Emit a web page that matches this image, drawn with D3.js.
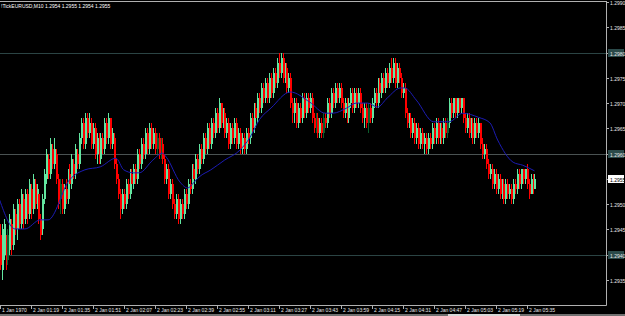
<!DOCTYPE html>
<html><head><meta charset="utf-8">
<script src="https://cdn.jsdelivr.net/npm/d3@7"></script>
<style>html,body{margin:0;padding:0;background:#000;overflow:hidden}</style>
</head><body>
<svg id="c" width="625" height="316"></svg>
<script>
// Prices in pips above 1.2900 (e.g. 55 -> 1.2955)
const opens = [44,37,40,42,39,41,46,42,48,45,50,46,51,47,52,48,53,49,54,50,52,47,45,51,55,59,56,61,58,60,55,51,54,49,53,51,56,54,58,56,60,58,63,66,62,67,64,66,62,65,60,63,59,63,61,66,63,67,62,63,58,55,52,49,52,50,54,52,56,54,57,55,60,58,62,60,64,61,65,62,64,61,63,60,62,59,55,57,52,54,50,48,51,47,50,48,52,50,54,53,57,55,59,57,61,59,63,61,65,62,66,64,68,65,70,66,68,64,66,62,65,63,66,62,64,61,63,61,64,63,67,65,69,67,71,69,73,71,74,71,75,72,76,74,78,76,79,75,77,73,75,70,68,70,66,69,67,71,68,71,69,71,67,65,67,64,66,64,67,66,70,68,72,70,73,71,73,70,68,70,67,70,72,69,72,70,72,69,67,69,66,69,67,70,72,70,74,72,75,73,76,74,77,75,78,74,77,75,72,73,68,66,67,64,66,63,65,62,64,62,63,61,63,62,65,63,66,63,65,63,66,64,66,70,68,71,68,71,69,71,67,65,67,64,66,63,66,64,66,62,60,61,58,56,57,54,56,53,55,52,54,51,54,52,53,51,54,53,56,54,57,55,57,54,52,55,53];
const closes = [38,45,46,39,44,47,42,49,45,50,46,52,47,52,48,54,49,55,50,53,47,44,51,56,60,56,62,58,61,55,50,54,49,53,51,56,54,59,56,61,58,63,66,62,67,64,66,62,65,60,63,59,63,61,66,63,67,62,64,58,55,52,49,52,50,54,52,56,54,57,55,60,58,62,60,64,61,65,62,64,61,63,60,62,59,55,57,52,54,50,48,51,47,50,48,52,50,54,53,57,55,59,57,61,59,63,61,65,62,66,64,68,65,70,66,68,64,66,62,65,63,66,62,64,61,63,61,64,63,67,65,69,67,71,69,73,71,74,71,75,72,76,74,78,76,79,75,77,73,75,70,68,70,66,69,67,71,68,71,69,71,67,65,67,64,66,64,67,66,70,68,72,70,73,71,73,70,68,70,67,70,72,69,72,70,72,69,67,69,66,69,67,70,72,70,74,72,75,73,76,74,77,75,78,74,77,75,72,73,68,66,67,64,66,63,65,62,64,62,63,61,63,62,65,63,66,63,65,63,66,64,66,70,68,71,68,71,69,71,67,65,67,64,66,63,66,64,66,62,60,61,58,56,57,54,56,53,55,52,54,51,54,52,53,51,54,53,56,54,57,55,57,54,52,55,53,55];
const highs = [46,46,47,44,45,48,47,50,49,51,51,53,52,53,53,55,54,56,55,54,53,48,52,57,61,60,63,62,63,61,56,55,55,54,55,57,58,60,59,62,61,64,67,67,68,68,68,67,66,66,64,64,64,64,67,67,68,67,65,64,59,56,53,53,53,55,55,57,57,58,58,61,61,63,63,65,65,66,66,65,65,64,64,63,63,60,58,58,55,55,51,52,52,51,51,53,53,55,55,58,58,60,60,62,62,64,64,66,66,67,67,69,69,71,70,69,69,67,67,66,66,67,67,65,65,64,64,65,65,68,68,70,70,72,72,74,74,75,75,76,76,77,77,79,80,80,80,78,78,76,76,71,71,71,70,70,72,72,72,72,72,72,68,68,68,67,67,68,68,71,71,73,73,74,74,74,74,71,71,71,71,73,73,73,73,73,73,70,70,70,70,70,71,73,73,75,75,76,76,77,77,78,79,79,79,78,78,76,74,74,69,68,68,67,67,66,66,65,65,64,64,64,64,66,66,67,67,66,66,67,67,67,71,71,71,71,71,71,71,71,68,68,68,67,67,67,67,67,66,63,62,62,59,58,58,57,57,56,56,55,55,55,55,54,54,55,55,57,57,57,57,57,58,55,56,56,56];
const lows = [37,35,39,37,38,40,40,41,44,43,45,45,45,46,46,47,47,48,49,49,46,43,44,50,54,55,55,57,57,54,49,48,48,48,50,50,53,53,55,55,57,57,62,61,61,63,63,61,61,59,58,58,58,60,60,62,62,61,61,57,54,51,47,48,49,49,51,51,53,53,54,54,57,57,59,59,60,60,61,61,60,60,59,59,58,54,54,51,51,49,47,47,46,46,47,47,49,49,52,52,54,54,56,56,58,58,60,60,61,61,63,63,64,64,65,65,63,63,61,61,62,62,61,61,60,60,60,60,62,62,64,64,66,66,68,68,70,70,70,70,71,71,73,73,75,75,74,74,72,72,69,66,66,65,65,66,66,67,67,68,68,66,64,64,63,63,63,63,65,65,67,67,69,69,70,70,69,67,67,66,66,69,68,68,69,69,68,66,65,65,64,66,66,69,69,69,71,71,72,72,73,73,74,74,73,73,74,71,71,67,65,65,63,63,62,62,61,61,61,60,60,60,61,61,62,62,62,62,62,62,63,63,65,67,67,67,67,68,68,66,64,64,63,63,62,62,63,63,61,59,59,57,55,55,53,53,52,52,51,51,50,50,51,51,50,50,52,52,53,53,54,54,53,51,52,52,53];
const darkUpBars = [4,31,81,83,163,167,190,231];
// Moving average (bar index, pips)
const maIndex = [0,8,13,21,25,36,44,52,60,64,69,72,79,84,86,93,97,100,103,109,116,124,129,134,140,150,160,168,172,179,184,190,195,200,207,209,215,224,232,239,247,253,257,265,270,276];
const maValue = [50.8,45.1,45.1,46.9,46.9,54.8,56.8,57.4,59.1,56.8,56.2,56.2,58.7,60.1,59.3,54.4,53.2,54.2,55.4,56.8,58.7,60.7,63.1,66.7,69.0,72.2,70.2,68.0,68.0,69.0,70.0,70.0,69.2,71.0,73.0,73.0,70.6,66.3,66.3,68.0,67.2,66.1,62.7,58.3,57.7,56.6];
const priceTicks = [1.2990,1.2985,1.2980,1.2975,1.2970,1.2965,1.2960,1.2955,1.2950,1.2945,1.2940,1.2935];
const levelLines = [1.2980,1.2960,1.2940];
const currentPrice = 1.2955;
const timeTickBars = [0,16,32,48,64,80,96,112,128,144,160,176,192,208,224,240,256,272];
const timeLabels = ["1 Jan 1970","2 Jan 01:19","2 Jan 01:35","2 Jan 01:51","2 Jan 02:07","2 Jan 02:23","2 Jan 02:39","2 Jan 02:55","2 Jan 03:11","2 Jan 03:27","2 Jan 03:43","2 Jan 03:59","2 Jan 04:15","2 Jan 04:31","2 Jan 04:47","2 Jan 05:03","2 Jan 05:19","2 Jan 05:35"];
const titleText = "!TickEURUSD,M10  1.2954 1.2955 1.2954 1.2955";

const svg = d3.select("#c");
const W = 606, B = 305;
const toP = v => 1.29 + v/10000;
const x = d3.scaleLinear().domain([0,16]).range([-0.3,30.7]);
const y = d3.scaleLinear().domain([1.2935,1.2990]).range([280,2]);
const font = "Liberation Sans, Arial, sans-serif";

svg.append("rect").attr("width",625).attr("height",316).attr("fill","#000");

// level lines
svg.selectAll("line.lvl").data(levelLines).enter().append("line")
  .attr("x1",0).attr("x2",W).attr("y1",d=>Math.round(y(d))+0.5).attr("y2",d=>Math.round(y(d))+0.5)
  .attr("stroke",(d,i)=> i===1 ? "#4a5252" : "#2b4444").attr("stroke-width",1);

const bars = d3.range(opens.length).map(i=>({i,o:toP(opens[i]),c:toP(closes[i]),h:toP(highs[i]),l:toP(lows[i])}));
const col = d => d.c < d.o ? "#ff0000" : (darkUpBars.includes(d.i) ? "#0c5e2c" : "#62e6a0");
const g = svg.append("g").attr("shape-rendering","crispEdges");
g.selectAll("rect.w").data(bars).enter().append("rect")
  .attr("x",d=>Math.round(x(d.i))).attr("width",1)
  .attr("y",d=>y(d.h)).attr("height",d=>Math.max(1,y(d.l)-y(d.h))).attr("fill",col);
g.selectAll("rect.b").data(bars).enter().append("rect")
  .attr("x",d=>Math.round(x(d.i))).attr("width",2)
  .attr("y",d=>y(Math.max(d.o,d.c))).attr("height",d=>Math.max(1,Math.abs(y(d.o)-y(d.c)))).attr("fill",col);

// moving average
const ma = maIndex.map((v,k)=>[v,toP(maValue[k])]);
svg.append("path").datum(ma)
  .attr("d",d3.line().x(d=>x(d[0])).y(d=>y(d[1])).curve(d3.curveMonotoneX))
  .attr("fill","none").attr("stroke","#1c1cb4").attr("stroke-width",1);

// frame
svg.append("line").attr("x1",0).attr("x2",W+0.5).attr("y1",1.5).attr("y2",1.5).attr("stroke","#b0b0b0");
svg.append("line").attr("x1",W+0.5).attr("x2",W+0.5).attr("y1",1).attr("y2",B+0.5).attr("stroke","#b0b0b0");
svg.append("line").attr("x1",0).attr("x2",W+0.5).attr("y1",B+0.5).attr("y2",B+0.5).attr("stroke","#b0b0b0");

// price axis
const pa = svg.append("g");
priceTicks.forEach(p=>{
  const yy = Math.round(y(p))+0.5;
  pa.append("line").attr("x1",W).attr("x2",W+3).attr("y1",yy).attr("y2",yy).attr("stroke","#b0b0b0");
  const boxed = levelLines.some(v=>Math.abs(v-p)<1e-7);
  const cur = Math.abs(p-currentPrice)<1e-7;
  if (boxed || cur) {
    pa.append("rect").attr("x",608).attr("y",yy-4.5).attr("width",16).attr("height",8)
      .attr("fill",cur?"#ffffff":"#2b4a4a");
  }
  pa.append("text").attr("x",610).attr("y",yy+2).attr("font-family",font).attr("font-size",5)
    .attr("fill",cur?"#000":"#e8e8e8").text(p.toFixed(4));
});

// time axis
const ta = svg.append("g");
timeTickBars.forEach((b,k)=>{
  const xx = Math.round(x(b))+0.5;
  ta.append("line").attr("x1",xx).attr("x2",xx).attr("y1",B).attr("y2",B+4).attr("stroke","#b0b0b0");
  ta.append("text").attr("x",xx+1.5).attr("y",312).attr("font-family",font).attr("font-size",5)
    .attr("fill","#e8e8e8").text(timeLabels[k]);
});

// bottom band
svg.append("rect").attr("x",0).attr("y",314).attr("width",625).attr("height",2).attr("fill","#707070");
svg.append("rect").attr("x",448).attr("y",314).attr("width",72).attr("height",2).attr("fill","#d8d8d8");

// title
svg.append("text").attr("x",1).attr("y",8).attr("font-family",font).attr("font-size",5)
  .attr("fill","#ffffff").text(titleText);
</script>
</body></html>
